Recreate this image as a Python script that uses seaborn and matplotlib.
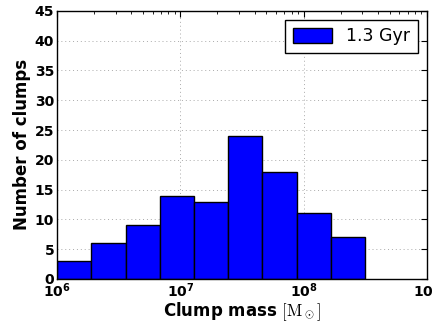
import numpy as np
import matplotlib
matplotlib.use("Agg")
import matplotlib.pyplot as plt
import seaborn as sns
from matplotlib.patches import Patch

# Histogram of clump masses (log-spaced bins from 1e6 to 10**8.5)
log_edges = np.linspace(6.0, 8.5, 10)
clump_counts = [3, 6, 9, 14, 13, 24, 18, 11, 7]
legend_label = "1.3 Gyr"

# one representative mass per bin, weighted by its count
bin_centers = 10 ** ((log_edges[:-1] + log_edges[1:]) / 2)

sns.set_style("white")
plt.rcParams["font.family"] = ["DejaVu Sans"]
plt.rcParams["mathtext.fontset"] = "cm"
plt.rcParams["text.color"] = "black"
plt.rcParams["axes.labelcolor"] = "black"
plt.rcParams["xtick.color"] = "black"
plt.rcParams["ytick.color"] = "black"

fig = plt.figure(figsize=(4.32, 3.21), dpi=100)
ax = fig.add_axes([0.132, 0.131, 0.856, 0.835])

sns.histplot(x=bin_centers, weights=clump_counts, bins=len(clump_counts),
             binrange=(log_edges[0], log_edges[-1]), log_scale=True,
             color="#0000ff", edgecolor="black", linewidth=1.0, alpha=1.0, ax=ax)

ax.set_xlim(1e6, 1e9)
ax.set_ylim(0, 45)
ax.set_yticks(np.arange(0, 46, 5))
ax.grid(True, which="major", color="#aaaaaa", linestyle=(0, (1, 3)), linewidth=0.7)
ax.set_axisbelow(True)

ax.tick_params(which="both", direction="in", top=True, right=True, pad=2)
ax.tick_params(which="major", length=4, labelsize=10)
ax.tick_params(which="minor", length=2)
for lab in ax.get_xticklabels() + ax.get_yticklabels():
    lab.set_fontweight("bold")

for sp in ax.spines.values():
    sp.set_color("black")
    sp.set_linewidth(1.0)

ax.set_xlabel(r"Clump mass $[\mathrm{M_\odot}]$", fontsize=12, fontweight="bold", labelpad=0)
ax.set_ylabel("Number of clumps", fontsize=12, fontweight="bold", labelpad=3)

leg = ax.legend(handles=[Patch(facecolor="#0000ff", edgecolor="black", label=legend_label)],
                loc="upper right", fontsize=12.5, fancybox=False, framealpha=1,
                handlelength=2.3, handleheight=0.9, borderpad=0.45)
leg.get_frame().set_edgecolor("black")

fig.savefig("out.png", dpi=100)
